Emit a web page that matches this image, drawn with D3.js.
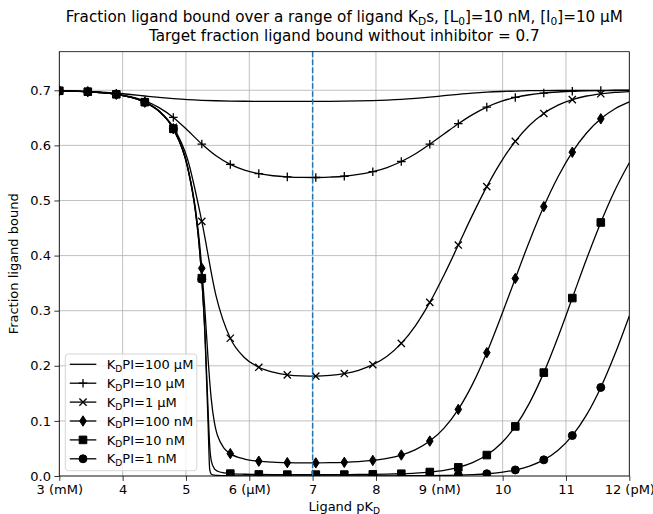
<!DOCTYPE html>
<html>
<head>
<meta charset="utf-8">
<script src="https://cdn.jsdelivr.net/npm/d3@7"></script>
<style>
  body { margin: 0; background: #fff; }
  svg text { font-family: "DejaVu Sans", sans-serif; fill: #000; }
  .grid line { stroke: #b0b0b0; stroke-width: 0.8; }
  .axis path { display: none; }
  .axis line { stroke: #000; stroke-width: 0.8; }
</style>
</head>
<body>
<div id="wrapper"></div>
<script>
// ligand pKD grid (coarse) and the finer one used for the tight inhibitors
const pkdGrid = [3, 3.225, 3.45, 3.675, 3.9, 4.125, 4.35, 4.575, 4.8, 5.025, 5.25, 5.475, 5.7, 5.925,
  6.15, 6.375, 6.6, 6.825, 7.05, 7.275, 7.5, 7.725, 7.95, 8.175, 8.4, 8.625, 8.85, 9.075, 9.3,
  9.525, 9.75, 9.975, 10.2, 10.425, 10.65, 10.875, 11.1, 11.325, 11.55, 11.775, 12]
const pkdFine = [3, 3.225, 3.45, 3.675, 3.9, 4.125, 4.35, 4.575, 4.8, 5.025, 5.15, 5.2, 5.25, 5.3,
  5.35, 5.375, 5.4, 5.45, 5.475, 5.5, 5.6, 5.7, 5.925, 6.15, 6.375, 6.6, 6.825, 7.05, 7.275, 7.5,
  7.725, 7.95, 8.175, 8.4, 8.625, 8.85, 9.075, 9.3, 9.525, 9.75, 9.975, 10.2, 10.425, 10.65,
  10.875, 11.1, 11.325, 11.55, 11.775, 12]
const markerPkd = [3, 3.45, 3.9, 4.35, 4.8, 5.25, 5.7, 6.15, 6.6, 7.05, 7.5, 7.95, 8.4, 8.85, 9.3,
  9.75, 10.2, 10.65, 11.1, 11.55]

const bound100uM = [0.6991, 0.6986, 0.6977, 0.6964, 0.6946, 0.6923, 0.6896, 0.6870, 0.6848, 0.6830,
  0.6818, 0.6810, 0.6804, 0.6801, 0.6800, 0.6799, 0.6798, 0.6798, 0.6799, 0.6800, 0.6802, 0.6806,
  0.6812, 0.6821, 0.6834, 0.6853, 0.6876, 0.6902, 0.6927, 0.6949, 0.6966, 0.6978, 0.6986, 0.6992,
  0.6995, 0.6997, 0.6998, 0.6999, 0.6999, 0.7000, 0.7000]
const bound10uM = [0.6991, 0.6985, 0.6975, 0.6958, 0.6929, 0.6883, 0.6806, 0.6685, 0.6507, 0.6274,
  0.6024, 0.5810, 0.5654, 0.5551, 0.5487, 0.5449, 0.5428, 0.5418, 0.5417, 0.5425, 0.5440, 0.5472,
  0.5522, 0.5598, 0.5707, 0.5849, 0.6021, 0.6208, 0.6393, 0.6559, 0.6695, 0.6797, 0.6870, 0.6919,
  0.6950, 0.6969, 0.6982, 0.6989, 0.6993, 0.6996, 0.6998]
const bound1uM = [0.6991, 0.6985, 0.6975, 0.6957, 0.6927, 0.6876, 0.6787, 0.6627, 0.6330, 0.5748,
  0.4620, 0.3270, 0.2500, 0.2147, 0.1973, 0.1884, 0.1836, 0.1816, 0.1812, 0.1826, 0.1859, 0.1919,
  0.2020, 0.2174, 0.2407, 0.2731, 0.3150, 0.3648, 0.4191, 0.4739, 0.5252, 0.5702, 0.6074, 0.6364,
  0.6579, 0.6729, 0.6830, 0.6896, 0.6936, 0.6962, 0.6977]
const bound100nM = [0.6991, 0.6985, 0.6974, 0.6957, 0.6927, 0.6875, 0.6784, 0.6620, 0.6303, 0.5620,
  0.4851, 0.4384, 0.3770, 0.3000, 0.2110, 0.1715, 0.1390, 0.0963, 0.0829, 0.0730, 0.0508,
  0.0406, 0.0308, 0.0269, 0.0251, 0.0242, 0.0238, 0.0238, 0.0241, 0.0248, 0.0261, 0.0283,
  0.0319, 0.0381, 0.0479, 0.0634, 0.0870, 0.1209, 0.1667, 0.2238, 0.2894, 0.3585, 0.4265, 0.4889,
  0.5430, 0.5876, 0.6224, 0.6482, 0.6665, 0.6789]
const bound10nM = [0.6991, 0.6985, 0.6974, 0.6957, 0.6927, 0.6875, 0.6784, 0.6619, 0.6300, 0.5604,
  0.4801, 0.4293, 0.3590, 0.2596, 0.1174, 0.0543, 0.0275, 0.0130, 0.0104, 0.0087, 0.0056,
  0.0043, 0.0032, 0.0028, 0.0026, 0.0025, 0.0025, 0.0025, 0.0025, 0.0026, 0.0027, 0.0030,
  0.0034, 0.0041, 0.0052, 0.0072, 0.0104, 0.0157, 0.0243, 0.0380, 0.0591, 0.0900, 0.1328, 0.1876,
  0.2524, 0.3229, 0.3937, 0.4601, 0.5190, 0.5684]
const bound1nM = [0.6991, 0.6985, 0.6974, 0.6957, 0.6927, 0.6875, 0.6784, 0.6619, 0.6300, 0.5603,
  0.4796, 0.4283, 0.3570, 0.2538, 0.0915, 0.0114, 0.0032, 0.0014, 0.0011, 0.0009, 0.0006,
  0.0004, 0.0003, 0.0003, 0.0003, 0.0002, 0.0002, 0.0002, 0.0002, 0.0003, 0.0003, 0.0003,
  0.0003, 0.0004, 0.0005, 0.0007, 0.0011, 0.0016, 0.0026, 0.0041, 0.0067, 0.0110, 0.0181, 0.0293,
  0.0469, 0.0734, 0.1109, 0.1607, 0.2217, 0.2906]

const seriesLabels = ["K_{D}PI=100 µM", "K_{D}PI=10 µM", "K_{D}PI=1 µM", "K_{D}PI=100 nM", "K_{D}PI=10 nM", "K_{D}PI=1 nM"]
const seriesMarkers = ["none", "plus", "cross", "thin_diamond", "square", "circle"]

const xTicks = [3, 4, 5, 6, 7, 8, 9, 10, 11, 12]
const xTickLabels = ["3 (mM)", "4", "5", "6 (µM)", "7", "8", "9 (nM)", "10", "11", "12 (pM)"]
const yTicks = [0, 0.1, 0.2, 0.3, 0.4, 0.5, 0.6, 0.7]
const referencePkd = 7

const titleLines = ["Fraction ligand bound over a range of ligand K_{D}s, [L_{0}]=10 nM, [I_{0}]=10 µM",
  "Target fraction ligand bound without inhibitor = 0.7"]

function drawChart() {
  const series = [
    { x: pkdGrid, y: bound100uM },
    { x: pkdGrid, y: bound10uM },
    { x: pkdGrid, y: bound1uM },
    { x: pkdFine, y: bound100nM },
    { x: pkdFine, y: bound10nM },
    { x: pkdFine, y: bound1nM },
  ].map((s, i) => ({ ...s, label: seriesLabels[i], marker: seriesMarkers[i] }))

  let dimensions = {
    width: 653,
    height: 514,
    margin: { top: 51.7, right: 23.7, bottom: 38, left: 59.3 },
  }
  dimensions.boundedWidth = dimensions.width - dimensions.margin.left - dimensions.margin.right
  dimensions.boundedHeight = dimensions.height - dimensions.margin.top - dimensions.margin.bottom

  const wrapper = d3.select("#wrapper")
    .append("svg")
    .attr("width", dimensions.width)
    .attr("height", dimensions.height)

  const bounds = wrapper.append("g")
    .attr("transform", `translate(${dimensions.margin.left},${dimensions.margin.top})`)

  const xScale = d3.scaleLinear().domain([3, 12]).range([0, dimensions.boundedWidth])
  const yScale = d3.scaleLinear().domain([0, 0.77]).range([dimensions.boundedHeight, 0])

  // subscript helper: "K_{D}s"
  function richText(textSel, str, size) {
    const parts = str.split(/(_\{[^}]*\})/).filter(p => p.length)
    let shifted = false
    parts.forEach(p => {
      const isSub = p.startsWith("_{")
      const t = textSel.append("tspan").text(isSub ? p.slice(2, -1) : p)
      if (isSub) {
        t.attr("font-size", size * 0.7).attr("dy", size * 0.22)
        shifted = true
      } else if (shifted) {
        t.attr("dy", -size * 0.22)
        shifted = false
      }
    })
  }

  // grid
  bounds.append("g").attr("class", "grid")
    .selectAll("line").data(xTicks).enter().append("line")
    .attr("x1", d => xScale(d)).attr("x2", d => xScale(d))
    .attr("y1", 0).attr("y2", dimensions.boundedHeight)
  bounds.append("g").attr("class", "grid")
    .selectAll("line").data(yTicks).enter().append("line")
    .attr("x1", 0).attr("x2", dimensions.boundedWidth)
    .attr("y1", d => yScale(d)).attr("y2", d => yScale(d))

  const defs = wrapper.append("defs")
  defs.append("clipPath").attr("id", "plot-clip")
    .append("rect")
    .attr("width", dimensions.boundedWidth)
    .attr("height", dimensions.boundedHeight)

  const lineGenerator = d3.line()
    .x(d => xScale(d[0]))
    .y(d => yScale(d[1]))
    .curve(d3.curveMonotoneX)

  function markerPath(type, x, y) {
    const p = d3.path()
    if (type === "plus") {
      p.moveTo(x - 4.3, y); p.lineTo(x + 4.3, y)
      p.moveTo(x, y - 4.3); p.lineTo(x, y + 4.3)
    } else if (type === "cross") {
      p.moveTo(x - 3.6, y - 3.6); p.lineTo(x + 3.6, y + 3.6)
      p.moveTo(x - 3.6, y + 3.6); p.lineTo(x + 3.6, y - 3.6)
    } else if (type === "thin_diamond") {
      p.moveTo(x, y - 5.2); p.lineTo(x + 3.3, y); p.lineTo(x, y + 5.2); p.lineTo(x - 3.3, y); p.closePath()
    } else if (type === "square") {
      p.rect(x - 3.8, y - 3.8, 7.6, 7.6)
    } else if (type === "circle") {
      p.moveTo(x + 4, y); p.arc(x, y, 4, 0, 2 * Math.PI)
    }
    return p.toString()
  }

  const plot = bounds.append("g").attr("clip-path", "url(#plot-clip)")

  series.forEach(s => {
    const pts = s.x.map((x, i) => [x, s.y[i]])
    plot.append("path")
      .attr("d", lineGenerator(pts))
      .attr("fill", "none")
      .attr("stroke", "#000")
      .attr("stroke-width", 1.3)
    if (s.marker === "none") return
    const markerPts = pts.filter(p => markerPkd.some(m => Math.abs(m - p[0]) < 1e-6))
    const filled = s.marker !== "plus" && s.marker !== "cross"
    plot.selectAll(null).data(markerPts).enter().append("path")
      .attr("d", d => markerPath(s.marker, xScale(d[0]), yScale(d[1])))
      .attr("fill", filled ? "#000" : "none")
      .attr("stroke", "#000")
      .attr("stroke-width", filled ? 1 : 1.3)
  })

  // reference line
  bounds.append("line")
    .attr("x1", xScale(referencePkd)).attr("x2", xScale(referencePkd))
    .attr("y1", 0).attr("y2", dimensions.boundedHeight)
    .attr("stroke", "#1f77b4")
    .attr("stroke-width", 1.5)
    .attr("stroke-dasharray", "5.5,2.4")

  // frame
  bounds.append("rect")
    .attr("width", dimensions.boundedWidth)
    .attr("height", dimensions.boundedHeight)
    .attr("fill", "none")
    .attr("stroke", "#000")
    .attr("stroke-width", 0.8)

  // axes
  const xAxis = bounds.append("g").attr("class", "axis")
    .attr("transform", `translate(0,${dimensions.boundedHeight})`)
    .call(d3.axisBottom(xScale).tickValues(xTicks).tickFormat((d, i) => xTickLabels[i]).tickSize(4.9).tickPadding(3.5))
  const yAxis = bounds.append("g").attr("class", "axis")
    .call(d3.axisLeft(yScale).tickValues(yTicks).tickFormat(d3.format(".1f")).tickSize(4.9).tickPadding(3.5))
  bounds.selectAll(".axis text")
    .attr("font-family", "DejaVu Sans").attr("font-size", 13).attr("fill", "#000")

  // axis labels
  const xLabel = bounds.append("text")
    .attr("x", dimensions.boundedWidth / 2)
    .attr("y", dimensions.boundedHeight + 35)
    .attr("text-anchor", "middle")
    .attr("font-size", 13)
  richText(xLabel, "Ligand pK_{D}", 13)

  bounds.append("text")
    .attr("transform", `translate(${-41},${dimensions.boundedHeight / 2}) rotate(-90)`)
    .attr("text-anchor", "middle")
    .attr("font-size", 13)
    .text("Fraction ligand bound")

  // title
  titleLines.forEach((line, i) => {
    const t = bounds.append("text")
      .attr("x", dimensions.boundedWidth / 2)
      .attr("y", -30 + i * 19.5)
      .attr("text-anchor", "middle")
      .attr("font-size", 15.2)
    richText(t, line, 15.2)
  })

  // legend
  const legendGroup = bounds.append("g")
    .attr("transform", `translate(${65.3 - dimensions.margin.left},${354 - dimensions.margin.top})`)
  legendGroup.append("rect")
    .attr("width", 131.5)
    .attr("height", 116.7)
    .attr("rx", 3)
    .attr("fill", "#fff")
    .attr("fill-opacity", 0.8)
    .attr("stroke", "#cccccc")
    .attr("stroke-width", 0.8)
  series.forEach((s, i) => {
    const rowY = 10.3 + i * 18.9
    legendGroup.append("line")
      .attr("x1", 4.5).attr("x2", 31)
      .attr("y1", rowY).attr("y2", rowY)
      .attr("stroke", "#000").attr("stroke-width", 1.3)
    if (s.marker !== "none") {
      const filled = s.marker !== "plus" && s.marker !== "cross"
      legendGroup.append("path")
        .attr("d", markerPath(s.marker, 17.7, rowY))
        .attr("fill", filled ? "#000" : "none")
        .attr("stroke", "#000")
        .attr("stroke-width", filled ? 1 : 1.3)
    }
    const t = legendGroup.append("text")
      .attr("x", 41.5).attr("y", rowY + 4.6)
      .attr("font-size", 13)
    richText(t, s.label, 13)
  })
}

drawChart()
</script>
</body>
</html>
